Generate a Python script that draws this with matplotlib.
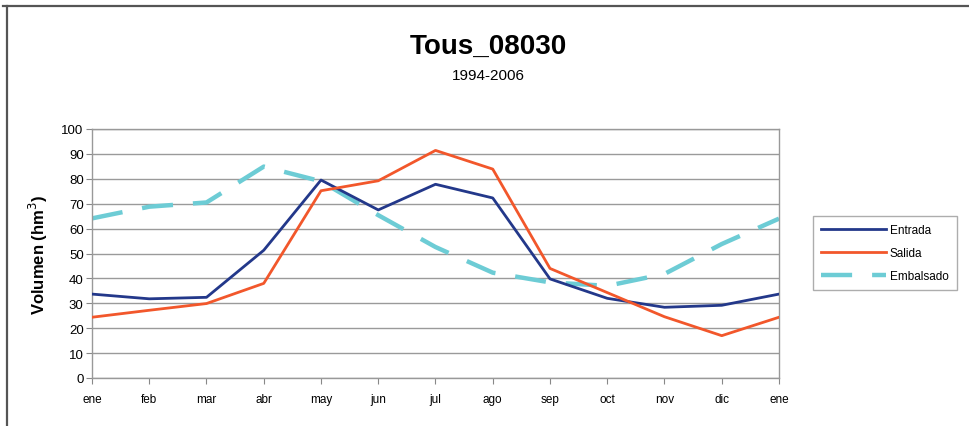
import matplotlib
matplotlib.use('Agg')
import matplotlib.pyplot as plt
from matplotlib.lines import Line2D

plt.rcParams['font.family'] = ['Liberation Sans', 'DejaVu Sans']

# Data
meses = ['ene', 'feb', 'mar', 'abr', 'may', 'jun', 'jul', 'ago', 'sep', 'oct', 'nov', 'dic', 'ene']
entrada = [33.7, 31.8, 32.4, 51.3, 79.5, 67.5, 77.8, 72.3, 39.8, 32.0, 28.4, 29.2, 33.7]
salida = [24.4, 27.2, 29.9, 38.0, 75.2, 79.2, 91.4, 83.9, 44.0, 34.3, 24.6, 17.0, 24.4]
embalsado = [64.1, 68.8, 70.5, 84.9, 79.0, 65.4, 52.6, 42.3, 38.4, 37.0, 41.8, 53.8, 64.0]

fig = plt.figure(figsize=(9.7, 4.27), dpi=100)
ax = fig.add_axes([92 / 970, 48 / 427, 687 / 970, 249 / 427])

x = list(range(len(meses)))
ax.plot(x, entrada, color='#23388a', lw=2.0, label='Entrada', zorder=3)
ax.plot(x, salida, color='#f2572b', lw=2.0, label='Salida', zorder=3)
ax.plot(x, embalsado, color='#6dccd5', lw=3.2, dashes=(7, 4.5), label='Embalsado', zorder=2)

ax.set_xlim(0, len(meses) - 1)
ax.set_ylim(0, 100)
ax.set_yticks(range(0, 101, 10))
ax.set_xticks(x)
ax.set_xticklabels(meses)
ax.tick_params(axis='x', labelsize=8.5, length=4, color='#888888', direction='out', pad=7)
ax.tick_params(axis='y', labelsize=9.5, length=4, color='#888888', direction='out', pad=2)
ax.yaxis.grid(True, color='#9a9a9a', lw=1)
ax.set_axisbelow(True)
for s in ['top', 'right', 'left', 'bottom']:
    ax.spines[s].set_color('#999999')
    ax.spines[s].set_linewidth(1)

ax.set_ylabel('Volumen (hm$^3$)', fontsize=12, fontweight='bold', labelpad=8)

fig.text(488 / 970, 1 - 47 / 427, 'Tous_08030', ha='center', va='center',
         fontsize=20, fontweight='bold')
fig.text(488 / 970, 1 - 76 / 427, '1994-2006', ha='center', va='center', fontsize=11)

leg = fig.legend(loc='center left', bbox_to_anchor=(807 / 970, 1 - 254 / 427),
                 fontsize=8.5, frameon=True, fancybox=False, edgecolor='#999999',
                 handlelength=5.5, borderpad=0.7, labelspacing=0.95, handletextpad=0.3)
leg.get_frame().set_linewidth(1)

# outer frame
fig.add_artist(Line2D([3 / 970, 1], [1 - 7 / 427, 1 - 7 / 427], color='#555555', lw=1.6,
                      transform=fig.transFigure))
fig.add_artist(Line2D([7 / 970, 7 / 970], [0, 1 - 7 / 427], color='#555555', lw=1.6,
                      transform=fig.transFigure))

fig.savefig('out.png', dpi=100)
